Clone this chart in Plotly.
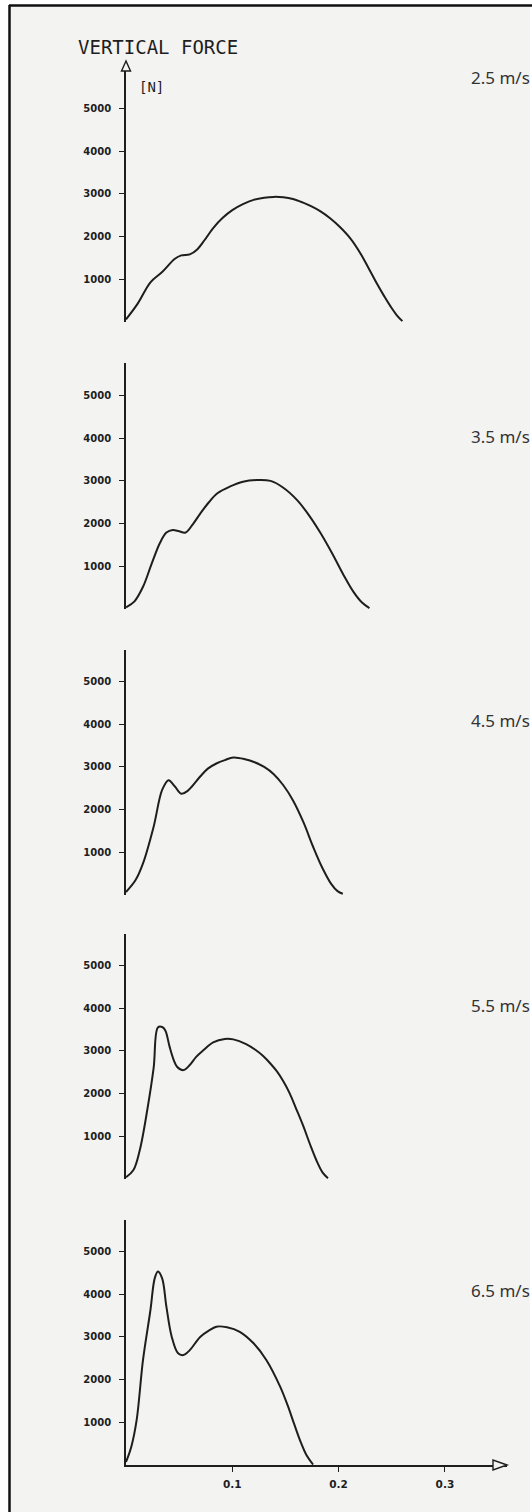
import plotly.graph_objects as go

# ---------------- data ----------------
speeds = ["2.5 m/s", "3.5 m/s", "4.5 m/s", "5.5 m/s", "6.5 m/s"]

t_25 = [0.000, 0.011, 0.023, 0.034, 0.046, 0.052, 0.060, 0.067, 0.074, 0.082, 0.091, 0.100,
        0.110, 0.120, 0.130, 0.139, 0.148, 0.157, 0.166, 0.175, 0.183, 0.192, 0.201, 0.211,
        0.220, 0.228, 0.236, 0.243, 0.249, 0.255, 0.260]
f_25 = [60, 430, 930, 1170, 1480, 1560, 1585, 1700, 1920, 2200, 2440, 2620,
        2760, 2860, 2910, 2930, 2920, 2880, 2800, 2700, 2590, 2430, 2230, 1960,
        1630, 1270, 900, 600, 360, 150, 20]

t_35 = [0.000, 0.008, 0.016, 0.024, 0.032, 0.038, 0.044, 0.050, 0.056, 0.063, 0.070, 0.078,
        0.086, 0.098, 0.110, 0.123, 0.136, 0.148, 0.161, 0.172, 0.183, 0.194, 0.205, 0.214,
        0.222, 0.229]
f_35 = [40, 180, 520, 1050, 1550, 1790, 1850, 1820, 1790, 1990, 2240, 2500,
        2710, 2870, 2980, 3020, 3000, 2840, 2550, 2200, 1780, 1300, 780, 400,
        150, 20]

t_45 = [0.000, 0.009, 0.016, 0.026, 0.034, 0.040, 0.046, 0.052, 0.058, 0.062, 0.070, 0.077,
        0.085, 0.093, 0.101, 0.112, 0.121, 0.130, 0.139, 0.148, 0.157, 0.167, 0.176, 0.185,
        0.193, 0.199, 0.204]
f_45 = [70, 350, 740, 1600, 2460, 2690, 2540, 2370, 2440, 2540, 2780, 2960,
        3080, 3160, 3220, 3180, 3110, 3000, 2830, 2570, 2220, 1700, 1130, 620,
        260, 90, 30]

t_55 = [0.000, 0.007, 0.013, 0.020, 0.026, 0.030, 0.034, 0.037, 0.041, 0.045, 0.048, 0.054,
        0.060, 0.066, 0.073, 0.082, 0.093, 0.101, 0.113, 0.122, 0.129, 0.136, 0.142, 0.148,
        0.154, 0.160, 0.167, 0.173, 0.179, 0.185, 0.190]
f_55 = [40, 210, 680, 1615, 2600, 3550, 3560, 3480, 3100, 2780, 2630, 2550,
        2670, 2860, 3020, 3200, 3280, 3270, 3160, 3020, 2880, 2700, 2520, 2290,
        2005, 1650, 1225, 820, 445, 150, 20]

t_65 = [0.000, 0.005, 0.010, 0.016, 0.023, 0.027, 0.030, 0.034, 0.038, 0.043, 0.049, 0.054,
        0.060, 0.070, 0.078, 0.085, 0.095, 0.107, 0.120, 0.132, 0.145, 0.152, 0.158, 0.164,
        0.170, 0.176]
f_65 = [70, 430, 1050, 2460, 3630, 4370, 4530, 4370, 3710, 3005, 2615, 2575,
        2690, 3005, 3150, 3240, 3225, 3120, 2850, 2460, 1835, 1400, 975, 560,
        220, 10]

series_t = [t_25, t_35, t_45, t_55, t_65]
series_f = [f_25, f_35, f_45, f_55, f_65]

y_tickvals = [1000, 2000, 3000, 4000, 5000]
y_ticktext = ["1000", "2000", "3000", "4000", "5000"]
x_tickvals = [0.1, 0.2, 0.3]
x_ticktext = ["0.1", "0.2", "0.3"]

y_title = "VERTICAL FORCE"
y_unit = "[N]"

# ---------------- layout geometry (pixels) ----------------
W, H = 532, 1512
X0_PX = 126.0          # t = 0
X_END_PX = 507.0       # end of x axis (arrow tip)
PX_PER_S = 1063.0
ZERO_PX = [322, 609, 895, 1179, 1465]    # F = 0 line of each panel
TOP_PX = [71, 363, 650, 934, 1220]       # top of each vertical axis
PX_PER_N = 0.0427
LABEL_PY = [77, 437, 720, 1005, 1290]

INK = "#1e1e1e"
BG = "#f3f3f2"


def px_x(px):
    return px / W


def px_y(py):
    return 1 - py / H


fig = go.Figure()

layout = dict(
    width=W, height=H,
    margin=dict(l=0, r=0, t=0, b=0),
    paper_bgcolor="white",
    plot_bgcolor="rgba(0,0,0,0)",
    showlegend=False,
)

x_range = [0, (X_END_PX - X0_PX) / PX_PER_S]

for i in range(5):
    n = i + 1
    xa = "x" if n == 1 else f"x{n}"
    ya = "y" if n == 1 else f"y{n}"
    fig.add_trace(go.Scatter(
        x=series_t[i], y=series_f[i], mode="lines",
        line=dict(color=INK, width=2, shape="spline", smoothing=1.0),
        xaxis=xa, yaxis=ya, hoverinfo="skip",
    ))
    last = (i == 4)
    layout[f"xaxis{'' if n == 1 else n}"] = dict(
        domain=[px_x(X0_PX), px_x(X_END_PX)],
        range=x_range,
        anchor=ya,
        showgrid=False, zeroline=False,
        showline=last, linecolor=INK, linewidth=1.6,
        ticks="outside" if last else "",
        ticklen=5, tickwidth=1.4, tickcolor=INK,
        tickvals=x_tickvals if last else [],
        ticktext=x_ticktext if last else [],
        showticklabels=last,
        ticklabelstandoff=4,
        tickfont=dict(family="DejaVu Sans", size=10.5, color=INK, weight="bold"),
        fixedrange=True,
    )
    layout[f"yaxis{'' if n == 1 else n}"] = dict(
        domain=[px_y(ZERO_PX[i]), px_y(TOP_PX[i])],
        range=[0, (ZERO_PX[i] - TOP_PX[i]) / PX_PER_N],
        anchor=xa,
        showgrid=False, zeroline=False,
        showline=True, linecolor=INK, linewidth=1.6,
        ticks="outside", ticklen=5, tickwidth=1.4, tickcolor=INK,
        tickvals=y_tickvals, ticktext=y_ticktext,
        ticklabelstandoff=6,
        tickfont=dict(family="DejaVu Sans", size=10, color=INK, weight="bold"),
        fixedrange=True,
    )

shapes = [
    # page background and the black frame on left / top
    dict(type="rect", xref="paper", yref="paper", x0=px_x(9), x1=px_x(530),
         y0=0, y1=px_y(5), fillcolor=BG, line=dict(width=0), layer="below"),
    dict(type="line", xref="paper", yref="paper", x0=px_x(9), x1=px_x(532),
         y0=px_y(5.5), y1=px_y(5.5), line=dict(color="#111", width=2.5)),
    dict(type="line", xref="paper", yref="paper", x0=px_x(9.5), x1=px_x(9.5),
         y0=0, y1=px_y(5), line=dict(color="#111", width=2.5)),
    # arrow head on the vertical axis of the first panel
    dict(type="path", xref="paper", yref="paper",
         path=(f"M {px_x(X0_PX)} {px_y(61)} L {px_x(X0_PX - 4.5)} {px_y(TOP_PX[0])} "
               f"L {px_x(X0_PX + 4.5)} {px_y(TOP_PX[0])} Z"),
         fillcolor=BG, line=dict(color=INK, width=1.4)),
    # arrow head on the time axis
    dict(type="path", xref="paper", yref="paper",
         path=(f"M {px_x(X_END_PX)} {px_y(ZERO_PX[4])} L {px_x(X_END_PX - 14)} {px_y(ZERO_PX[4] - 5)} "
               f"L {px_x(X_END_PX - 14)} {px_y(ZERO_PX[4] + 5)} Z"),
         fillcolor=BG, line=dict(color=INK, width=1.4)),
]
layout["shapes"] = shapes

annotations = [
    dict(text=y_title, xref="paper", yref="paper", x=px_x(76), y=px_y(47),
         xanchor="left", yanchor="middle", showarrow=False,
         font=dict(family="DejaVu Sans Mono", size=19, color=INK)),
    dict(text=y_unit, xref="paper", yref="paper", x=px_x(137), y=px_y(87),
         xanchor="left", yanchor="middle", showarrow=False,
         font=dict(family="DejaVu Sans Mono", size=14, color=INK)),
]
for i, s in enumerate(speeds):
    annotations.append(dict(
        text=s, xref="paper", yref="paper", x=px_x(532), y=px_y(LABEL_PY[i]),
        xanchor="right", yanchor="middle", showarrow=False,
        font=dict(family="Noto Sans", size=17, color="#333333")))
layout["annotations"] = annotations

fig.update_layout(**layout)
fig.write_html("out.html")
